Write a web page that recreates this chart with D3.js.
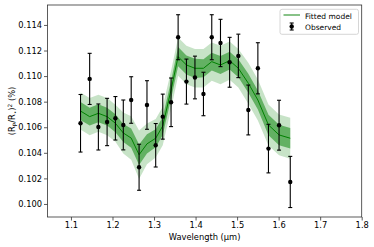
<!DOCTYPE html>
<html><head><meta charset="utf-8">
<script src="https://cdn.jsdelivr.net/npm/d3@7"></script>
<style>body{margin:0;background:#fff}svg{display:block;font-family:"DejaVu Sans",sans-serif}</style>
</head><body><svg id="c" width="374" height="247"></svg>
<script>
const wavelength = [1.123,1.145,1.166,1.187,1.207,1.226,1.245,1.264,1.283,1.304,1.321,1.341,1.358,1.378,1.3985,1.419,1.439,1.46,1.482,1.503,1.527,1.55,1.5755,1.601,1.628];
const observed = [0.10631,0.10978,0.10602,0.10641,0.1067,0.10618,0.10813,0.10287,0.10774,0.10459,0.10683,0.10795,0.11304,0.10957,0.10989,0.1086,0.11304,0.11259,0.11108,0.11158,0.10735,0.11061,0.10433,0.10616,0.10172];
const obsError = [0.00225,0.002,0.0018,0.00185,0.0017,0.00195,0.00182,0.0018,0.0019,0.0017,0.00176,0.0019,0.00176,0.00176,0.00167,0.0017,0.00176,0.00185,0.00195,0.0017,0.00195,0.002,0.0019,0.00195,0.002];
const model = [0.10727,0.10683,0.10709,0.10683,0.10631,0.10555,0.10515,0.10385,0.1047,0.10514,0.1061,0.10892,0.11152,0.11087,0.11061,0.11061,0.11113,0.11087,0.11121,0.11061,0.10944,0.10813,0.10618,0.1054,0.10514];
const sigma1 = [0.0007,0.0007,0.0007,0.0007,0.0007,0.0007,0.00075,0.0008,0.00075,0.0007,0.0007,0.0007,0.00075,0.00075,0.00075,0.0007,0.0007,0.0007,0.0007,0.0007,0.00075,0.00075,0.0008,0.0008,0.0008];
const sigma2 = [0.00145,0.00145,0.00145,0.00145,0.00145,0.0016,0.0017,0.0019,0.0016,0.0015,0.0015,0.0015,0.0015,0.0015,0.0015,0.0015,0.0015,0.0015,0.0015,0.0015,0.0016,0.0016,0.0016,0.0016,0.0016];
const xTicks = [1.1,1.2,1.3,1.4,1.5,1.6,1.7,1.8];
const yTicks = [0.100,0.102,0.104,0.106,0.108,0.110,0.112,0.114];

const svg = d3.select("#c");
const L=47.5, R=361.7, T=5, B=217;
const x = d3.scaleLinear().domain([1.0435,1.8]).range([L,R]);
const y = d3.scaleLinear().domain([0.09898,0.11556]).range([B,T]);
const data = wavelength.map((w,i)=>({w,o:observed[i],e:obsError[i],m:model[i],s1:sigma1[i],s2:sigma2[i]}));
const green = "#008000";

const area2 = d3.area().x(d=>x(d.w)).y0(d=>y(d.m-d.s2)).y1(d=>y(d.m+d.s2));
const area1 = d3.area().x(d=>x(d.w)).y0(d=>y(d.m-d.s1)).y1(d=>y(d.m+d.s1));
svg.append("path").datum(data).attr("d",area2).attr("fill",green).attr("fill-opacity",0.22);
svg.append("path").datum(data).attr("d",area1).attr("fill",green).attr("fill-opacity",0.5);
svg.append("path").datum(data).attr("d",d3.line().x(d=>x(d.w)).y(d=>y(d.m))).attr("fill","none").attr("stroke",green).attr("stroke-width",1);

const eb = svg.append("g").attr("stroke","#000").attr("stroke-width",1.1);
data.forEach(d=>{
  const cx=x(d.w);
  eb.append("line").attr("x1",cx).attr("x2",cx).attr("y1",y(d.o-d.e)).attr("y2",y(d.o+d.e));
  eb.append("line").attr("x1",cx-2).attr("x2",cx+2).attr("y1",y(d.o-d.e)).attr("y2",y(d.o-d.e));
  eb.append("line").attr("x1",cx-2).attr("x2",cx+2).attr("y1",y(d.o+d.e)).attr("y2",y(d.o+d.e));
});
svg.append("g").selectAll("circle").data(data).join("circle").attr("cx",d=>x(d.w)).attr("cy",d=>y(d.o)).attr("r",2.2).attr("fill","#000");

// axes
const xa = svg.append("g").attr("transform",`translate(0,${B})`).call(d3.axisBottom(x).tickValues(xTicks).tickFormat(d3.format(".1f")).tickSize(3.5).tickPadding(2));
const ya = svg.append("g").attr("transform",`translate(${L},0)`).call(d3.axisLeft(y).tickValues(yTicks).tickFormat(d3.format(".3f")).tickSize(3.5).tickPadding(2));
[xa,ya].forEach(a=>{a.select(".domain").remove();a.selectAll("text").attr("font-size",8.3).attr("fill","#000").attr("font-family","DejaVu Sans");a.selectAll("line").attr("stroke","#333").attr("stroke-width",0.8);});
svg.append("rect").attr("x",L).attr("y",T).attr("width",R-L).attr("height",B-T).attr("fill","none").attr("stroke","#333").attr("stroke-width",0.8);

svg.append("text").attr("x",(L+R)/2).attr("y",240).attr("text-anchor","middle").attr("font-size",8.3).text("Wavelength (μm)");
const yl = svg.append("text").attr("transform",`translate(15,${(T+B)/2}) rotate(-90)`).attr("text-anchor","middle").attr("font-size",8.3);
yl.append("tspan").text("(R");
yl.append("tspan").attr("font-size",5.8).attr("dy",1.5).text("P");
yl.append("tspan").attr("dy",-1.5).text("/R");
yl.append("tspan").attr("font-size",5.8).attr("dy",1.5).text("⋆");
yl.append("tspan").attr("dy",-1.5).text(")");
yl.append("tspan").attr("font-size",5.8).attr("dy",-3).text("2");
yl.append("tspan").attr("dy",3).text(" (%)");

// legend
const lg = svg.append("g");
lg.append("rect").attr("x",280).attr("y",9.3).attr("width",78.5).attr("height",25).attr("rx",2).attr("fill","#fff").attr("fill-opacity",0.8).attr("stroke","#ccc").attr("stroke-width",0.8);
lg.append("line").attr("x1",283.5).attr("x2",300).attr("y1",15).attr("y2",15).attr("stroke","#3a9a3a").attr("stroke-width",1.2);
lg.append("text").attr("x",305).attr("y",18.5).attr("font-size",7.5).text("Fitted model");
lg.append("line").attr("x1",291.7).attr("x2",291.7).attr("y1",23).attr("y2",30).attr("stroke","#000").attr("stroke-width",1.1);
lg.append("line").attr("x1",289.7).attr("x2",293.7).attr("y1",23).attr("y2",23).attr("stroke","#000").attr("stroke-width",1.1);
lg.append("line").attr("x1",289.7).attr("x2",293.7).attr("y1",30).attr("y2",30).attr("stroke","#000").attr("stroke-width",1.1);
lg.append("circle").attr("cx",291.7).attr("cy",26.5).attr("r",2.2).attr("fill","#000");
lg.append("text").attr("x",305).attr("y",29.5).attr("font-size",7.5).text("Observed");
</script></body></html>
